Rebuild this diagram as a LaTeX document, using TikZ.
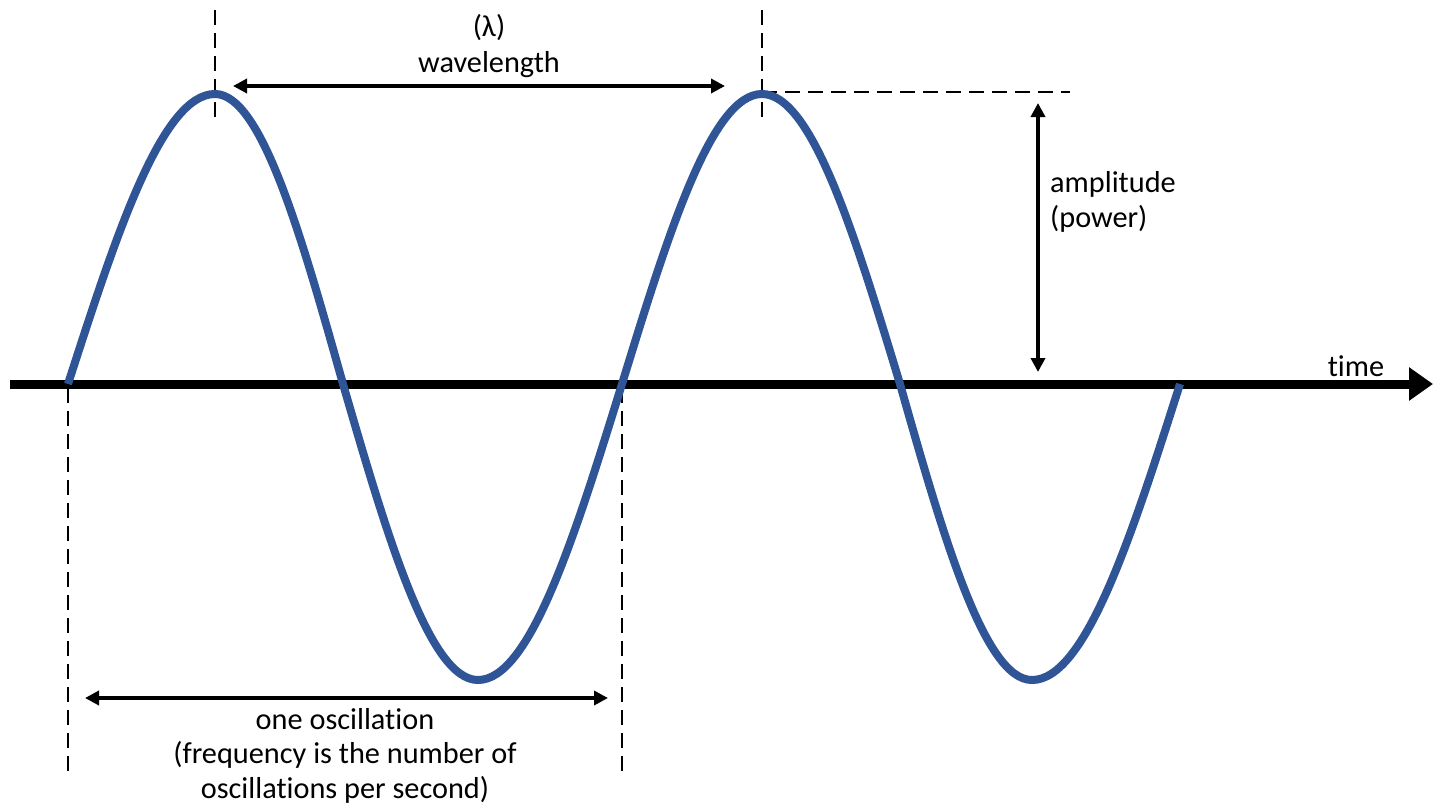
\documentclass[tikz,border=0pt]{standalone}
\usepackage{fontspec}
\setmainfont{Carlito}[Ligatures=NoCommon]
\usetikzlibrary{arrows.meta}
\definecolor{waveblue}{RGB}{47,85,151}
\begin{document}
\begin{tikzpicture}[x=1pt,y=-1pt,
  lbl/.style={font=\fontsize{30.3}{34.5}\selectfont, inner sep=0pt, align=center},
  dimarrow/.style={line width=3.5pt, {Triangle[length=14pt,width=14pt]}-{Triangle[length=14pt,width=14pt]}},
  guide/.style={line width=2.2pt, dash pattern=on 15pt off 8pt},
  wave/.style={line width=8pt, draw=waveblue},
  axisline/.style={line width=9pt, -{Triangle[length=24pt,width=32pt]}}]
\useasboundingbox (0,0) rectangle (1433,809);
% coordinates
\coordinate (ax0) at (10,384);
\coordinate (ax1) at (1433,384);
\coordinate (pk1top) at (215,10);
\coordinate (pk1bot) at (215,118);
\coordinate (pk2top) at (762,10);
\coordinate (pk2bot) at (762,118);
\coordinate (hd0) at (762,92);
\coordinate (hd1) at (1070,92);
\coordinate (z0top) at (68,388);
\coordinate (z0bot) at (68,775);
\coordinate (z2top) at (622,388);
\coordinate (z2bot) at (622,775);
\coordinate (wl0) at (233,86);
\coordinate (wl1) at (725,86);
\coordinate (am0) at (1038,103);
\coordinate (am1) at (1038,372);
\coordinate (os0) at (85,698);
\coordinate (os1) at (608,698);
% guides
\draw[guide] (pk1top) -- (pk1bot);
\draw[guide] (pk2top) -- (pk2bot);
\draw[guide] (hd0) -- (hd1);
\draw[guide] (z0top) -- (z0bot);
\draw[guide] (z2top) -- (z2bot);
% axis
\draw[axisline] (ax0) -- (ax1);
% wave
\draw[wave] (68,384) sin (215,94) cos (343,384) sin (478,680) cos (622,384)
  sin (762,94) cos (900,384) sin (1032,680) cos (1180,384);
% dimension arrows
\draw[dimarrow] (wl0) -- (wl1);
\draw[dimarrow] (am0) -- (am1);
\draw[dimarrow] (os0) -- (os1);
% labels
\node[lbl, anchor=base] (lam) at (489,36) {(λ)};
\node[lbl, anchor=base] (wl) at (489,72) {wavelength};
\node[lbl, anchor=base west, align=left] (amp) at (1050,227) {amplitude\\(power)};
\node[lbl, anchor=base] (time) at (1356,376) {time};
\node[lbl, anchor=base] (osc) at (345,798) {one oscillation\\(frequency is the number of\\oscillations per second)};
\end{tikzpicture}
\end{document}
